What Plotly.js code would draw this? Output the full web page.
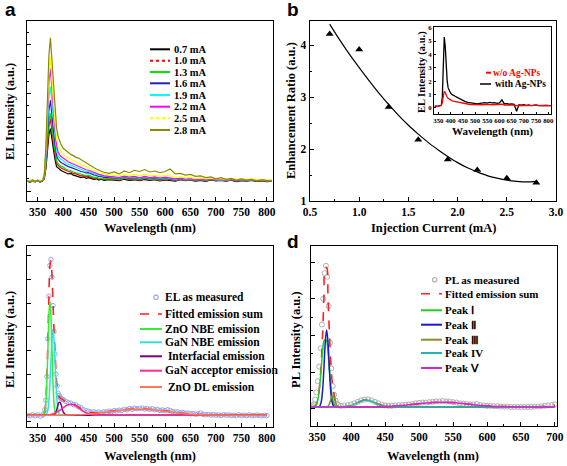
<!DOCTYPE html>
<html><head><meta charset="utf-8">
<script src="https://cdn.plot.ly/plotly-3.0.1.min.js"></script>
<style>html,body{margin:0;padding:0;background:#fff;}#chart{width:567px;height:466px;}</style>
</head><body><div id="chart"></div>
<script>
// ---------- Panel a: EL spectra at different injection currents ----------
const wlA = [330,335,340,345,350,355,360,363,366,369,372,375,378,381,384,387,390,395,400,405,410,415,420,425,430,435,440,445,450,455,460,465,470,475,480,490,500,510,520,530,540,550,560,570,580,590,600,610,620,630,640,650,660,670,680,690,700,710,720,730,740,750,760,770,780,790,800,810];
const currentsA = ['0.7 mA','1.0 mA','1.3 mA','1.6 mA','1.9 mA','2.2 mA','2.5 mA','2.8 mA'];
const i07 = [.40,.36,.43,.38,.42,.36,.42, .50,.90,1.70,2.30,2.56,2.20,1.70,1.30,1.00,.95, .85,.80,.75,.70,.72,.65,.62,.60,.55,.58,.52,.55,.50,.48,.50,.45,.48,.44, .47,.45,.42,.48,.44,.46,.42,.47,.43,.46,.41,.45,.44,.40,.46,.42,.44,.40,.43,.39,.45,.41,.43,.40,.44,.38,.42,.40,.43,.39,.41,.38,.40];
const i10 = [.42,.38,.45,.37,.43,.38,.44, .52,1.00,1.95,2.65,2.97,2.55,1.95,1.50,1.15,1.05, .95,.90,.84,.80,.78,.72,.70,.66,.62,.63,.58,.60,.55,.52,.54,.49,.51,.47, .50,.48,.46,.52,.47,.50,.45,.51,.46,.49,.44,.48,.47,.42,.48,.44,.46,.42,.45,.41,.46,.43,.44,.41,.45,.40,.44,.41,.44,.40,.42,.39,.41];
const i13 = [.41,.39,.44,.38,.42,.40,.43, .55,1.10,2.10,2.85,3.18,2.75,2.10,1.65,1.25,1.12, 1.02,.98,.90,.86,.84,.78,.75,.72,.68,.68,.63,.65,.60,.56,.57,.52,.53,.50, .52,.50,.48,.54,.50,.52,.47,.53,.48,.51,.46,.50,.49,.44,.49,.45,.47,.43,.46,.42,.47,.44,.45,.42,.46,.41,.45,.42,.45,.41,.43,.40,.42];
const i16 = [.43,.37,.45,.40,.44,.38,.45, .58,1.25,2.45,3.30,3.72,3.20,2.45,1.90,1.45,1.30, 1.18,1.12,1.05,1.00,.97,.92,.88,.84,.80,.78,.74,.75,.70,.66,.64,.60,.60,.56, .56,.54,.52,.57,.53,.56,.50,.56,.51,.54,.49,.53,.51,.46,.51,.47,.49,.45,.48,.44,.48,.45,.46,.43,.47,.42,.46,.43,.46,.42,.44,.41,.43];
const i19 = [.40,.38,.44,.39,.43,.37,.44, .60,1.40,2.80,3.80,4.27,3.65,2.80,2.15,1.65,1.45, 1.30,1.25,1.15,1.10,1.06,1.00,.96,.92,.88,.85,.80,.80,.75,.70,.68,.64,.63,.59, .58,.56,.54,.59,.55,.58,.52,.58,.53,.56,.51,.55,.53,.48,.52,.48,.50,.46,.49,.45,.49,.46,.47,.44,.48,.43,.47,.44,.47,.43,.45,.42,.44];
const i22 = [.42,.39,.45,.38,.44,.39,.43, .62,1.55,3.20,4.45,5.02,4.30,3.30,2.50,1.90,1.60, 1.42,1.35,1.26,1.20,1.15,1.10,1.05,1.00,.95,.92,.87,.85,.80,.75,.72,.68,.66,.62, .60,.58,.56,.61,.57,.60,.54,.60,.55,.58,.53,.57,.55,.50,.53,.49,.51,.47,.50,.46,.50,.47,.48,.45,.49,.44,.48,.45,.48,.44,.46,.43,.45];
const i25 = [.43,.40,.46,.40,.45,.40,.46, .65,1.65,3.45,4.85,5.50,4.75,3.65,2.80,2.15,1.85, 1.62,1.50,1.42,1.35,1.30,1.24,1.18,1.14,1.08,1.04,.98,.95,.90,.84,.80,.76,.73,.69, .66,.64,.62,.68,.63,.68,.62,.68,.62,.65,.60,.64,.62,.56,.58,.54,.56,.51,.54,.50,.53,.50,.51,.48,.52,.47,.51,.48,.50,.46,.48,.45,.47];
const i28 = [.42,.38,.45,.40,.44,.38,.45, .68,1.80,3.90,5.55,6.28,5.40,4.25,3.30,2.60,2.25, 1.95,1.75,1.66,1.56,1.50,1.45,1.38,1.35,1.28,1.22,1.16,1.10,1.02,.96,.90,.85,.80,.77, .72,.78,.70,.82,.75,.85,.80,.88,.78,.82,.75,.80,.90,.70,.72,.65,.68,.60,.62,.55,.58,.50,.55,.48,.52,.45,.50,.45,.48,.42,.47,.44,.40];

// ---------- Panel b: enhancement ratio ----------
const curB = [0.7,1.0,1.3,1.6,1.9,2.2,2.5,2.8];
const ratioB = [4.22,3.92,2.81,2.18,1.80,1.60,1.44,1.35];
const fitXB = [0.7,0.8,0.9,1.0,1.1,1.2,1.3,1.4,1.5,1.6,1.7,1.8,1.9,2.0,2.1,2.2,2.3,2.4,2.5,2.6,2.7,2.8];
const fitYB = [4.41,4.11,3.83,3.57,3.32,3.08,2.86,2.65,2.46,2.29,2.13,1.99,1.86,1.74,1.64,1.56,1.49,1.44,1.40,1.38,1.37,1.38];
// inset
const wlI = [335,345,355,362,366,370,374,378,382,386,390,395,400,405,410,420,430,440,450,460,470,480,490,500,510,520,530,540,550,560,570,580,590,600,610,620,630,640,650,660,670,680,690,700,710,720,730,740,750,760,770,780,790,800,810];
const withAg = [.15,.12,.18,.20,.80,3.20,5.30,4.60,3.00,2.00,1.50,1.25,1.10,1.00,.95,.85,.75,.65,.55,.48,.42,.38, .35,.32,.30,.35,.38,.40,.36,.42,.38,.40,.35,.38,.60,.30,.32,.28,.30,.28,-.25,.25,.22,.24,.20,.22,.18,.20,.22,.18,.20,.19,.20,.18,.17];
const woAg = [.12,.10,.15,.18,.40,1.00,1.25,1.15,.95,.80,.72,.65,.60,.55,.52,.48,.42,.38,.34,.30,.28,.26, .25,.24,.22,.25,.24,.26,.23,.25,.24,.25,.22,.24,.28,.22,.23,.21,.22,.21,.18,.20,.19,.20,.18,.20,.17,.19,.20,.18,.19,.18,.19,.17,.18];

// ---------- Panel c: EL deconvolution ----------
const mxC = [330,335,340,345,350,355,360,362,364,366,368,370,372,374,376,378,380,382,384,386,388,390,392,394,396,398,400,405,410,415,420,425,430,435,440,445,450,455,460,465,470,475,480,485,490,495,500,505,510,515,520,525,530,535,540,545,550,555,560,565,570,575,580,585,590,595,600,605,610,615,620,625,630,635,640,645,650,655,660,665,670,675,680,685,690,695,700,705,710,715,720,725,730,735,740,745,750,755,760,765,770,775,780,785,790,795,800];
const elMeas = [.26,.24,.29,.25,.28,.23,.27, .32,.50,.90,1.90,3.50,5.30,6.60,6.85,6.10,4.90,3.80,2.85,2.00,1.50,1.20,1.10,1.02,.97,.94,.93,
 .85,.80,.78,.72,.70,.63,.58,.50,.46,.43, .40,.41,.38,.40,.37,.41,.40,.44,.42,.46, .45,.48,.47,.52,.50,.55,.52,.56,.54,.55,
 .57,.53,.55,.52,.54,.50,.51,.47,.49,.46, .50,.47,.42,.40,.41,.37,.38,.35,.36,.33, .34,.31,.33,.36,.30,.29,.30,.28,.29,.27,
 .28,.26,.29,.27,.28,.26,.27,.25,.28,.26, .27,.25,.28,.26,.25,.27,.26,.24,.26,.25];
const cx = [330,340,350,355,360,362,364,366,368,370,372,374,376,378,380,382,384,386,388,390,392,394,396,398,400,405,410,415,420,425,430,440,450,460,470,480,490,500,520,540,560,580,600,620,640,660,680,700,750,800];
const cFit = [.27,.27,.27,.27,.27, .30,.45,.85,1.85,3.40,5.20,6.60,6.80,6.20,5.00,3.90,2.95,2.05,1.45,1.15,1.05,1.00,.98,.95,.92, .82,.78,.76,.73,.68,.62, .48,.40,.37,.37,.39,.42,.45, .50,.53,.53,.50,.45,.39,.34,.31,.29,.28, .27,.27];
const cZnO = [.27,.27,.27,.27,.27, .30,.42,.79,1.65,3.04,4.47,5.10,4.47,3.04,1.65,.79,.42,.30,.28,.27,.27,.27,.27,.27,.27, .27,.27,.27,.27,.27,.27, .27,.27,.27,.27,.27,.27,.27, .27,.27,.27,.27,.27,.27,.27,.27,.27,.27, .27,.27];
const cGaN = [.27,.27,.27,.27,.27, .27,.27,.29,.34,.49,.88,1.58,2.56,3.46,3.83,3.46,2.56,1.58,.88,.49,.34,.29,.28,.27,.27, .27,.27,.27,.27,.27,.27, .27,.27,.27,.27,.27,.27,.27, .27,.27,.27,.27,.27,.27,.27,.27,.27,.27, .27,.27];
const cInt = [.27,.27,.27,.27,.27, .27,.27,.27,.27,.27,.27,.27,.27,.27,.275,.29,.33,.41,.55,.71,.81,.81,.71,.55,.41, .28,.27,.27,.27,.27,.27, .27,.27,.27,.27,.27,.27,.27, .27,.27,.27,.27,.27,.27,.27,.27,.27,.27, .27,.27];
const cAcc = [.27,.27,.27,.27,.27, .27,.275,.28,.28,.28,.29,.30,.30,.31,.33,.34,.36,.38,.40,.43,.45,.48,.52,.55,.58, .66,.71,.73,.71,.66,.58, .43,.33,.28,.27,.27,.27,.27, .27,.27,.27,.27,.27,.27,.27,.27,.27,.27, .27,.27];
const cDL = [.27,.27,.27,.27,.27, .27,.27,.27,.27,.27,.27,.27,.27,.27,.27,.27,.27,.27,.27,.27,.27,.27,.27,.27,.27, .27,.275,.28,.28,.285,.29, .30,.32,.33,.36,.38,.41,.44, .49,.52,.52,.49,.44,.38,.33,.30,.285,.275, .27,.27];
const namesC = ['EL as measured','Fitted emission sum','ZnO NBE emission','GaN NBE emission',' Interfacial emission','GaN acceptor emission',' ZnO DL emission'];

// ---------- Panel d: PL deconvolution ----------
const pmx = [341,343,345,347,349,351,353,355,357,359,361,363,365,367,369,371,373,375,377,379,381,385,390,395,400,405,410,415,420,425,430,435,440,445,450,455,460,465,470,475,480,485,490,495,500,505,510,515,520,525,530,535,540,545,550,555,560,565,570,575,580,585,590,595,600,605,610,615,620,625,630,635,640,645,650,655,660,665,670,675,680,685,690,695,700];
const plMeas = [.06,.08,.12,.25,.45,.75,1.15,1.65,2.30,3.00,3.70,3.90,3.60,2.80,1.80,1.10,.62,.38,.22,.14,.10,
 .08,.09,.10,.12,.15,.19,.23,.25,.26,.23, .19,.15,.11,.09,.08,.08,.09,.10,.10,.11, .12,.13,.15,.16,.17,.17,.18,.19,.20,.20,
 .21,.20,.20,.18,.17,.15,.14,.13,.12,.12, .13,.10,.09,.08,.08,.07,.07,.06,.06,.06, .05,.05,.05,.05,.05,.05,.05,.06,.06,.07, .08,.09,.10,.12];
const dx = [341,345,348,350,352,354,356,358,360,362,364,366,368,370,372,374,376,378,380,385,390,395,400,405,410,415,420,425,430,435,440,445,450,460,470,480,490,500,510,520,530,540,550,560,570,580,590,600,620,640,660,680,700];
const pFit = [.05,.053,.09,.17,.344,.69,1.22,1.99,3.05,3.85,3.85,3.05,2.10,1.29,.77,.50,.284,.136,.07, .053,.058,.07,.093,.128,.17,.213,.238,.238,.21,.168,.127,.096,.079,.073,.083,.099,.119,.139,.158,.173,.18,.177,.168,.151,.131,.111,.092,.078,.06,.052,.05,.06,.10];
const pI = [.05,.053,.09,.17,.34,.66,1.09,1.55,1.85,1.89,1.85,1.55,1.09,.66,.34,.17,.09,.056,.05, .05,.05,.05,.05,.05,.05,.05,.05,.05,.05,.05,.05,.05,.05,.05,.05,.05,.05,.05,.05,.05,.05,.05,.05,.05,.05,.05,.05,.05,.05,.05,.05,.05,.05];
const pII = [.05,.05,.05,.05,.054,.08,.18,.49,1.10,1.81,2.15,1.81,1.10,.49,.18,.08,.054,.05,.05, .05,.05,.05,.05,.05,.05,.05,.05,.05,.05,.05,.05,.05,.05,.05,.05,.05,.05,.05,.05,.05,.05,.05,.05,.05,.05,.05,.05,.05,.05,.05,.05,.05,.05];
const pIII = [.05,.05,.05,.05,.05,.05,.05,.05,.05,.05,.054,.07,.13,.24,.35,.35,.24,.13,.07, .05,.05,.05,.05,.05,.05,.05,.05,.05,.05,.05,.05,.05,.05,.05,.05,.05,.05,.05,.05,.05,.05,.05,.05,.05,.05,.05,.05,.05,.05,.05,.05,.05,.05];
const pIV = [.05,.05,.05,.05,.05,.05,.05,.05,.05,.05,.05,.05,.05,.05,.05,.05,.05,.05,.05, .053,.058,.07,.093,.128,.17,.213,.238,.235,.206,.163,.12,.087,.067,.052, .05,.05,.05,.05,.05,.05,.05,.05,.05,.05,.05,.05,.05,.05,.05,.05,.05,.05,.05];
const pV = [.05,.05,.05,.05,.05,.05,.05,.05,.05,.05,.05,.05,.05,.05,.05,.05,.05,.05,.05,.05,.05,.05,.05,.05,.05,.05,.05, .053,.054,.055,.057,.059,.062,.071,.083,.099,.119,.139,.158,.173,.18,.177,.168,.151,.131,.111,.092,.078,.06,.052,.05,.05,.05];
const namesD = ['PL as measured','Fitted emission sum','Peak Ⅰ','Peak Ⅱ','Peak Ⅲ','Peak IV','Peak Ⅴ'];

// ---------- helpers ----------
const W = 567, H = 466;
const px = v => v / W, py = v => 1 - v / H;
const SERIF = '"Liberation Serif", "Times New Roman", Times, serif';
const SANS = '"Liberation Sans", Arial, sans-serif';

function ax(extra) {
  return Object.assign({
    showline: true, mirror: true, linecolor: '#000', linewidth: 1.4,
    ticks: 'inside', ticklen: 4, tickwidth: 1, tickcolor: '#000',
    showgrid: false, zeroline: false, fixedrange: true, tickangle: 0,
    tickfont: {family: SERIF, size: 11.5, color: '#000', weight: 'bold'}
  }, extra);
}
function minor(d) { return {ticks: 'inside', ticklen: 2, dtick: d, tickcolor: '#000', showgrid: false}; }

const data = [];
const colA = ['#000000','#ff0000','#00e600','#2222bb','#00ffff','#ff00ff','#ffff00','#8a8a00'];
[i07,i10,i13,i16,i19,i22,i25,i28].forEach((arr, k) => {
  data.push({x: wlA, y: arr, xaxis: 'x', yaxis: 'y', mode: 'lines', name: currentsA[k],
    line: {color: colA[k], width: 1.2}, showlegend: false, hoverinfo: 'skip'});
});
// panel b
data.push({x: fitXB, y: fitYB, xaxis: 'x2', yaxis: 'y2', mode: 'lines', line: {color: '#000', width: 1.2, shape: 'spline'}, showlegend: false, hoverinfo: 'skip'});
data.push({x: curB, y: ratioB, xaxis: 'x2', yaxis: 'y2', mode: 'markers', marker: {symbol: 'triangle-up', size: 7, color: '#000'}, showlegend: false, hoverinfo: 'skip'});
data.push({x: wlI, y: withAg, xaxis: 'x3', yaxis: 'y3', mode: 'lines', name: 'with Ag-NPs', line: {color: '#000', width: 1.3}, showlegend: false, hoverinfo: 'skip'});
data.push({x: wlI, y: woAg, xaxis: 'x3', yaxis: 'y3', mode: 'lines', name: 'w/o Ag-NPs', line: {color: '#ff0000', width: 1.3}, showlegend: false, hoverinfo: 'skip'});
// panel c
const colC = ['#9aa6e6','#ff2020','#33ee33','#33e0e0','#800080','#ff2a8f','#ff7755'];
data.push({x: mxC, y: elMeas, xaxis: 'x4', yaxis: 'y4', mode: 'markers', marker: {symbol: 'circle-open', size: 4.5, color: colC[0], line: {width: 1}}, showlegend: false, hoverinfo: 'skip'});
data.push({x: cx, y: cFit, xaxis: 'x4', yaxis: 'y4', mode: 'lines', line: {color: colC[1], width: 1.6, dash: 'dash', shape: 'spline'}, showlegend: false, hoverinfo: 'skip'});
[cZnO, cGaN, cInt, cAcc, cDL].forEach((arr, k) => {
  data.push({x: cx, y: arr, xaxis: 'x4', yaxis: 'y4', mode: 'lines', line: {color: colC[k + 2], width: 1.5, shape: 'spline'}, showlegend: false, hoverinfo: 'skip'});
});
// panel d
const colD = ['#b0b0b0','#ff2020','#22cc22','#1a1acc','#8b8b2a','#20b8a8','#e020d0'];
data.push({x: pmx, y: plMeas, xaxis: 'x5', yaxis: 'y5', mode: 'markers', marker: {symbol: 'circle-open', size: 5, color: colD[0], line: {width: 1}}, showlegend: false, hoverinfo: 'skip'});
data.push({x: dx, y: pFit, xaxis: 'x5', yaxis: 'y5', mode: 'lines', line: {color: colD[1], width: 1.6, dash: 'dash', shape: 'spline'}, showlegend: false, hoverinfo: 'skip'});
[pI, pII, pIII, pIV, pV].forEach((arr, k) => {
  data.push({x: dx, y: arr, xaxis: 'x5', yaxis: 'y5', mode: 'lines', line: {color: colD[k + 2], width: 1.5, shape: 'spline'}, showlegend: false, hoverinfo: 'skip'});
});

// ---------- layout ----------
const shapes = [], annotations = [];
function txt(t, x, y, size, opts) {
  annotations.push(Object.assign({text: t, x: px(x), y: py(y), xref: 'paper', yref: 'paper', showarrow: false,
    xanchor: 'center', yanchor: 'middle', font: {family: SERIF, size: size, color: '#000', weight: 'bold'}}, opts || {}));
}
function lineSample(x0, x1, y, color, width, dash) {
  shapes.push({type: 'line', xref: 'paper', yref: 'paper', x0: px(x0), x1: px(x1), y0: py(y), y1: py(y), line: {color: color, width: width, dash: dash || 'solid'}});
}
function circSample(cxp, cyp, r, color) {
  shapes.push({type: 'circle', xref: 'paper', yref: 'paper', x0: px(cxp - r), x1: px(cxp + r), y0: py(cyp + r), y1: py(cyp - r), line: {color: color, width: 1.2}});
}

// panel letters
const LET = {family: SANS, size: 19, color: '#000', weight: 'bold'};
txt('a', 3, 9, 19, {xanchor: 'left', font: LET});
txt('b', 285, 9, 19, {xanchor: 'left', font: LET});
txt('c', 2, 242, 19, {xanchor: 'left', font: LET});
txt('d', 285, 241, 19, {xanchor: 'left', font: LET});

// axis titles
txt('Wavelength (nm)', 150, 228, 12.5);
txt('EL Intensity (a.u.)', 10, 112, 12.5, {textangle: -90});
txt('Injection Current (mA)', 433, 228, 12.5);
txt('Enhancement Ratio (a.u.)', 291, 111, 12.5, {textangle: -90});
txt('Wavelength (nm)', 492, 131, 11);
txt('EL Intensity (a.u.)', 422, 72, 10.5, {textangle: -90});
txt('Wavelength (nm)', 150, 456, 12.5);
txt('EL Intensity (a.u.)', 10, 340, 12.5, {textangle: -90});
txt('Wavelength (nm)', 433, 456, 12.5);
txt('PL Intensity (a.u.)', 296, 340, 12.5, {textangle: -90});

// legend a
const yLA = [49.3, 60.7, 72, 83.3, 95, 106.7, 118.3, 130];
currentsA.forEach((n, k) => {
  lineSample(150, 170, yLA[k], colA[k], 2, (k === 1 || k === 6) ? 'dot' : 'solid');
  txt(n, 172, yLA[k], 10.5, {xanchor: 'left'});
});
// inset legend
lineSample(486, 491, 72.7, '#ff0000', 2);
txt('w/o Ag-NPs', 491, 72.7, 9.5, {xanchor: 'left', font: {family: SERIF, size: 9.5, color: '#ff0000', weight: 'bold'}});
lineSample(480, 491, 84, '#000', 1.5);
txt('with Ag-NPs', 492.5, 84, 9.5, {xanchor: 'left'});

// legend c
const yLC = [297.3, 314, 329, 342.3, 356.3, 370.7, 387];
namesC.forEach((n, k) => {
  if (k === 0) circSample(156, yLC[k], 2.2, colC[0]);
  else lineSample(140, 162, yLC[k], colC[k], k === 1 ? 1.6 : 2, k === 1 ? 'dash' : 'solid');
  txt(n, 163.3, yLC[k], 11.5, {xanchor: 'left'});
});
// legend d
const yLD = [279.7, 293.7, 310.3, 324.7, 339.7, 353, 368];
namesD.forEach((n, k) => {
  if (k === 0) circSample(434.7, yLD[k], 2.2, colD[0]);
  else lineSample(421, 442, yLD[k], colD[k], k === 1 ? 1.6 : 2, k === 1 ? 'dash' : 'solid');
  txt(n, 443, yLD[k], 11, {xanchor: 'left'});
});

const INS = {family: SERIF, size: 6.8, color: '#000', weight: 'bold'};
const layout = {
  width: W, height: H, margin: {l: 0, r: 0, t: 0, b: 0},
  paper_bgcolor: '#fff', plot_bgcolor: '#fff', showlegend: false,
  xaxis: ax({domain: [px(27), px(273)], range: [329, 812], anchor: 'y', tick0: 350, dtick: 50, minor: minor(25)}),
  yaxis: ax({domain: [py(201), py(21)], range: [-0.41, 6.97], anchor: 'x', tick0: 0, dtick: 1, showticklabels: false, minor: minor(0.5)}),
  xaxis2: ax({domain: [px(310), px(556)], range: [0.5, 3.0], anchor: 'y2', tick0: 0.5, dtick: 0.5, tickformat: '.1f', minor: minor(0.25)}),
  yaxis2: ax({domain: [py(201), py(21)], range: [1, 4.47], anchor: 'x2', tick0: 1, dtick: 1, minor: minor(0.5)}),
  xaxis3: ax({domain: [px(434), px(551)], range: [332, 811], anchor: 'y3', tick0: 350, dtick: 50, linewidth: 1.1, ticklen: 2, tickfont: INS}),
  yaxis3: ax({domain: [py(114), py(27)], range: [-0.45, 6.05], anchor: 'x3', tick0: 0, dtick: 1, linewidth: 1.1, ticklen: 2, tickfont: INS}),
  xaxis4: ax({domain: [px(27), px(273)], range: [329, 812], anchor: 'y4', tick0: 350, dtick: 50, minor: minor(25)}),
  yaxis4: ax({domain: [py(427), py(246)], range: [-0.23, 7.42], anchor: 'x4', tick0: 0, dtick: 1, showticklabels: false}),
  xaxis5: ax({domain: [px(311), px(557)], range: [341, 703], anchor: 'y5', tick0: 350, dtick: 50, minor: minor(25)}),
  yaxis5: ax({domain: [py(426), py(246)], range: [-0.47, 4.44], anchor: 'x5', tick0: 0, dtick: 1, showticklabels: false, minor: minor(0.5)}),
  shapes: shapes, annotations: annotations
};

Plotly.newPlot('chart', data, layout, {displayModeBar: false, staticPlot: true});
</script>
</body></html>
